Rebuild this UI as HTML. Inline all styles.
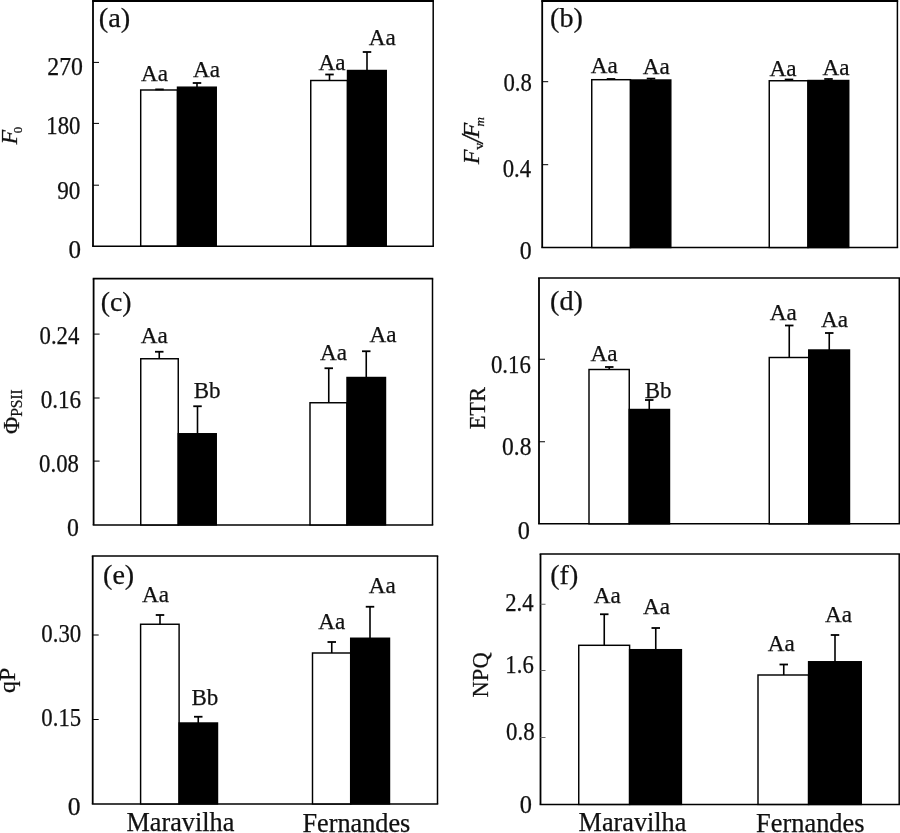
<!DOCTYPE html>
<html><head><meta charset="utf-8"><title>Figure</title>
<style>
html,body{margin:0;padding:0;background:#fff;}
svg{display:block;filter:blur(0.35px);}
svg text{font-family:"Liberation Serif",serif;fill:#111;stroke:#111;stroke-width:0.25px;}
</style></head><body>
<svg width="900" height="833" viewBox="0 0 900 833">
<rect width="900" height="833" fill="#fff"/>
<line x1="92.1" y1="0.4" x2="433.95" y2="0.4" stroke="#000" stroke-width="3.2"/>
<line x1="92.1" y1="246.2" x2="433.95" y2="246.2" stroke="#000" stroke-width="1.5"/>
<line x1="93" y1="0.4" x2="93" y2="246.2" stroke="#000" stroke-width="1.8"/>
<line x1="433.2" y1="0.4" x2="433.2" y2="246.2" stroke="#000" stroke-width="1.5"/>
<line x1="93" y1="62.4" x2="99" y2="62.4" stroke="#000" stroke-width="1.0"/>
<line x1="93" y1="123.4" x2="99" y2="123.4" stroke="#000" stroke-width="1.0"/>
<line x1="93" y1="185.2" x2="99" y2="185.2" stroke="#000" stroke-width="1.0"/>
<rect x="140.70" y="90.00" width="36.80" height="156.00" fill="#fff" stroke="#000" stroke-width="1.45"/>
<line x1="159.5" y1="90" x2="159.5" y2="89.4" stroke="#000" stroke-width="1.6"/>
<line x1="155.25" y1="89.4" x2="163.75" y2="89.4" stroke="#000" stroke-width="1.8"/>
<rect x="177.50" y="87.20" width="38.75" height="158.80" fill="#000" stroke="#000" stroke-width="1.45"/>
<line x1="197" y1="87.2" x2="197" y2="83" stroke="#000" stroke-width="1.6"/>
<line x1="192.75" y1="83" x2="201.25" y2="83" stroke="#000" stroke-width="1.8"/>
<rect x="310.75" y="80.50" width="36.75" height="165.50" fill="#fff" stroke="#000" stroke-width="1.45"/>
<line x1="329.5" y1="80.5" x2="329.5" y2="74.5" stroke="#000" stroke-width="1.6"/>
<line x1="325.25" y1="74.5" x2="333.75" y2="74.5" stroke="#000" stroke-width="1.8"/>
<rect x="347.50" y="70.50" width="38.75" height="175.50" fill="#000" stroke="#000" stroke-width="1.45"/>
<line x1="367" y1="70.5" x2="367" y2="52" stroke="#000" stroke-width="1.6"/>
<line x1="362.75" y1="52" x2="371.25" y2="52" stroke="#000" stroke-width="1.8"/>
<line x1="541.3000000000001" y1="0.4" x2="898.15" y2="0.4" stroke="#000" stroke-width="3.2"/>
<line x1="541.3000000000001" y1="247.5" x2="898.15" y2="247.5" stroke="#000" stroke-width="1.5"/>
<line x1="542.2" y1="0.4" x2="542.2" y2="247.5" stroke="#000" stroke-width="1.8"/>
<line x1="897.4" y1="0.4" x2="897.4" y2="247.5" stroke="#000" stroke-width="1.5"/>
<line x1="542.2" y1="81.7" x2="548.2" y2="81.7" stroke="#000" stroke-width="1.0"/>
<line x1="542.2" y1="164.7" x2="548.2" y2="164.7" stroke="#000" stroke-width="1.0"/>
<rect x="591.75" y="79.70" width="38.75" height="167.80" fill="#fff" stroke="#000" stroke-width="1.45"/>
<line x1="611" y1="79.7" x2="611" y2="79.0" stroke="#000" stroke-width="1.6"/>
<line x1="606.75" y1="79.0" x2="615.25" y2="79.0" stroke="#000" stroke-width="1.8"/>
<rect x="630.50" y="80.00" width="40.30" height="167.50" fill="#000" stroke="#000" stroke-width="1.45"/>
<line x1="651" y1="80" x2="651" y2="78.6" stroke="#000" stroke-width="1.6"/>
<line x1="646.75" y1="78.6" x2="655.25" y2="78.6" stroke="#000" stroke-width="1.8"/>
<rect x="769.25" y="80.75" width="38.75" height="166.75" fill="#fff" stroke="#000" stroke-width="1.45"/>
<line x1="789" y1="80.75" x2="789" y2="79.5" stroke="#000" stroke-width="1.6"/>
<line x1="784.75" y1="79.5" x2="793.25" y2="79.5" stroke="#000" stroke-width="1.8"/>
<rect x="808.00" y="80.50" width="40.75" height="167.00" fill="#000" stroke="#000" stroke-width="1.45"/>
<line x1="828.5" y1="80.5" x2="828.5" y2="79" stroke="#000" stroke-width="1.6"/>
<line x1="824.25" y1="79" x2="832.75" y2="79" stroke="#000" stroke-width="1.8"/>
<line x1="92.69999999999999" y1="278.7" x2="433.25" y2="278.7" stroke="#000" stroke-width="1.7"/>
<line x1="92.69999999999999" y1="524.9" x2="433.25" y2="524.9" stroke="#000" stroke-width="1.5"/>
<line x1="93.6" y1="278.7" x2="93.6" y2="524.9" stroke="#000" stroke-width="1.8"/>
<line x1="432.5" y1="278.7" x2="432.5" y2="524.9" stroke="#000" stroke-width="1.5"/>
<line x1="93.6" y1="334.1" x2="99.6" y2="334.1" stroke="#000" stroke-width="1.0"/>
<line x1="93.6" y1="398" x2="99.6" y2="398" stroke="#000" stroke-width="1.0"/>
<line x1="93.6" y1="461.1" x2="99.6" y2="461.1" stroke="#000" stroke-width="1.0"/>
<rect x="140.75" y="358.75" width="37.50" height="166.15" fill="#fff" stroke="#000" stroke-width="1.45"/>
<line x1="159.25" y1="358.75" x2="159.25" y2="351.75" stroke="#000" stroke-width="1.6"/>
<line x1="155.0" y1="351.75" x2="163.5" y2="351.75" stroke="#000" stroke-width="1.8"/>
<rect x="178.25" y="433.75" width="38.00" height="91.15" fill="#000" stroke="#000" stroke-width="1.45"/>
<line x1="197.5" y1="433.75" x2="197.5" y2="406.25" stroke="#000" stroke-width="1.6"/>
<line x1="193.25" y1="406.25" x2="201.75" y2="406.25" stroke="#000" stroke-width="1.8"/>
<rect x="310.00" y="402.75" width="37.00" height="122.15" fill="#fff" stroke="#000" stroke-width="1.45"/>
<line x1="328.75" y1="402.75" x2="328.75" y2="368.25" stroke="#000" stroke-width="1.6"/>
<line x1="324.5" y1="368.25" x2="333.0" y2="368.25" stroke="#000" stroke-width="1.8"/>
<rect x="347.00" y="377.50" width="38.50" height="147.40" fill="#000" stroke="#000" stroke-width="1.45"/>
<line x1="366.25" y1="377.5" x2="366.25" y2="351.25" stroke="#000" stroke-width="1.6"/>
<line x1="362.0" y1="351.25" x2="370.5" y2="351.25" stroke="#000" stroke-width="1.8"/>
<line x1="538.1" y1="278" x2="900.05" y2="278" stroke="#000" stroke-width="1.7"/>
<line x1="538.1" y1="523.8" x2="900.05" y2="523.8" stroke="#000" stroke-width="1.5"/>
<line x1="539" y1="278" x2="539" y2="523.8" stroke="#000" stroke-width="1.8"/>
<line x1="899.3" y1="278" x2="899.3" y2="523.8" stroke="#000" stroke-width="1.5"/>
<line x1="539" y1="359.25" x2="545" y2="359.25" stroke="#000" stroke-width="1.0"/>
<line x1="539" y1="441.75" x2="545" y2="441.75" stroke="#000" stroke-width="1.0"/>
<rect x="589.00" y="369.50" width="40.25" height="154.30" fill="#fff" stroke="#000" stroke-width="1.45"/>
<line x1="609.25" y1="369.5" x2="609.25" y2="367" stroke="#000" stroke-width="1.6"/>
<line x1="605.0" y1="367" x2="613.5" y2="367" stroke="#000" stroke-width="1.8"/>
<rect x="629.25" y="409.50" width="40.25" height="114.30" fill="#000" stroke="#000" stroke-width="1.45"/>
<line x1="649.25" y1="409.5" x2="649.25" y2="400" stroke="#000" stroke-width="1.6"/>
<line x1="645.0" y1="400" x2="653.5" y2="400" stroke="#000" stroke-width="1.8"/>
<rect x="769.25" y="357.50" width="39.50" height="166.30" fill="#fff" stroke="#000" stroke-width="1.45"/>
<line x1="789.25" y1="357.5" x2="789.25" y2="325.5" stroke="#000" stroke-width="1.6"/>
<line x1="785.0" y1="325.5" x2="793.5" y2="325.5" stroke="#000" stroke-width="1.8"/>
<rect x="808.75" y="350.00" width="40.75" height="173.80" fill="#000" stroke="#000" stroke-width="1.45"/>
<line x1="829.25" y1="350" x2="829.25" y2="333" stroke="#000" stroke-width="1.6"/>
<line x1="825.0" y1="333" x2="833.5" y2="333" stroke="#000" stroke-width="1.8"/>
<line x1="91.8" y1="556" x2="438.25" y2="556" stroke="#000" stroke-width="1.7"/>
<line x1="91.8" y1="803.9" x2="438.25" y2="803.9" stroke="#000" stroke-width="1.5"/>
<line x1="92.7" y1="556" x2="92.7" y2="803.9" stroke="#000" stroke-width="1.8"/>
<line x1="437.5" y1="556" x2="437.5" y2="803.9" stroke="#000" stroke-width="1.5"/>
<line x1="92.7" y1="635" x2="98.7" y2="635" stroke="#000" stroke-width="1.0"/>
<line x1="92.7" y1="719.5" x2="98.7" y2="719.5" stroke="#000" stroke-width="1.0"/>
<rect x="140.60" y="624.25" width="38.50" height="179.65" fill="#fff" stroke="#000" stroke-width="1.45"/>
<line x1="160" y1="624.25" x2="160" y2="615" stroke="#000" stroke-width="1.6"/>
<line x1="155.75" y1="615" x2="164.25" y2="615" stroke="#000" stroke-width="1.8"/>
<rect x="179.10" y="723.00" width="38.40" height="80.90" fill="#000" stroke="#000" stroke-width="1.45"/>
<line x1="198.25" y1="723" x2="198.25" y2="716.75" stroke="#000" stroke-width="1.6"/>
<line x1="194.0" y1="716.75" x2="202.5" y2="716.75" stroke="#000" stroke-width="1.8"/>
<rect x="312.50" y="653.00" width="38.20" height="150.90" fill="#fff" stroke="#000" stroke-width="1.45"/>
<line x1="331.75" y1="653" x2="331.75" y2="642" stroke="#000" stroke-width="1.6"/>
<line x1="327.5" y1="642" x2="336.0" y2="642" stroke="#000" stroke-width="1.8"/>
<rect x="350.70" y="638.25" width="38.80" height="165.65" fill="#000" stroke="#000" stroke-width="1.45"/>
<line x1="370" y1="638.25" x2="370" y2="606.75" stroke="#000" stroke-width="1.6"/>
<line x1="365.75" y1="606.75" x2="374.25" y2="606.75" stroke="#000" stroke-width="1.8"/>
<line x1="539.6" y1="554" x2="899.95" y2="554" stroke="#000" stroke-width="1.7"/>
<line x1="539.6" y1="804.4" x2="899.95" y2="804.4" stroke="#000" stroke-width="1.5"/>
<line x1="540.5" y1="554" x2="540.5" y2="804.4" stroke="#000" stroke-width="1.8"/>
<line x1="899.2" y1="554" x2="899.2" y2="804.4" stroke="#000" stroke-width="1.5"/>
<line x1="540.5" y1="604.25" x2="545.5" y2="604.25" stroke="#666" stroke-width="1"/>
<line x1="540.5" y1="670.5" x2="545.5" y2="670.5" stroke="#666" stroke-width="1"/>
<line x1="540.5" y1="737.5" x2="545.5" y2="737.5" stroke="#666" stroke-width="1"/>
<rect x="578.75" y="645.30" width="50.85" height="159.10" fill="#fff" stroke="#000" stroke-width="1.45"/>
<line x1="604.25" y1="645.3" x2="604.25" y2="614.25" stroke="#000" stroke-width="1.6"/>
<line x1="600.0" y1="614.25" x2="608.5" y2="614.25" stroke="#000" stroke-width="1.8"/>
<rect x="629.60" y="649.70" width="51.80" height="154.70" fill="#000" stroke="#000" stroke-width="1.45"/>
<line x1="655.75" y1="649.7" x2="655.75" y2="628" stroke="#000" stroke-width="1.6"/>
<line x1="651.5" y1="628" x2="660.0" y2="628" stroke="#000" stroke-width="1.8"/>
<rect x="758.00" y="675.00" width="50.60" height="129.40" fill="#fff" stroke="#000" stroke-width="1.45"/>
<line x1="783.75" y1="675" x2="783.75" y2="664.5" stroke="#000" stroke-width="1.6"/>
<line x1="779.5" y1="664.5" x2="788.0" y2="664.5" stroke="#000" stroke-width="1.8"/>
<rect x="808.60" y="661.75" width="52.65" height="142.65" fill="#000" stroke="#000" stroke-width="1.45"/>
<line x1="835" y1="661.75" x2="835" y2="635" stroke="#000" stroke-width="1.6"/>
<line x1="830.75" y1="635" x2="839.25" y2="635" stroke="#000" stroke-width="1.8"/>
<text x="98.72" y="27" font-size="28" textLength="31.56" lengthAdjust="spacingAndGlyphs">(a)</text>
<text x="550.03" y="27.3" font-size="28" textLength="32.82" lengthAdjust="spacingAndGlyphs">(b)</text>
<text x="100.75" y="310.5" font-size="28" textLength="30.79" lengthAdjust="spacingAndGlyphs">(c)</text>
<text x="550.03" y="309.5" font-size="28" textLength="32.82" lengthAdjust="spacingAndGlyphs">(d)</text>
<text x="103.03" y="584" font-size="28" textLength="31.23" lengthAdjust="spacingAndGlyphs">(e)</text>
<text x="550.34" y="584" font-size="28" textLength="27.89" lengthAdjust="spacingAndGlyphs">(f)</text>
<text x="47.23" y="74.7" font-size="24.7" textLength="35.72" lengthAdjust="spacingAndGlyphs">270</text>
<text x="46.34" y="134.4" font-size="24.7" textLength="34.09" lengthAdjust="spacingAndGlyphs">180</text>
<text x="57.31" y="199.3" font-size="24.7" textLength="23.12" lengthAdjust="spacingAndGlyphs">90</text>
<text x="68.5" y="258" font-size="24.7" textLength="12.5" lengthAdjust="spacingAndGlyphs">0</text>
<text x="503.45" y="91.4" font-size="24.7" textLength="28.41" lengthAdjust="spacingAndGlyphs">0.8</text>
<text x="502.64" y="177" font-size="24.7" textLength="28.41" lengthAdjust="spacingAndGlyphs">0.4</text>
<text x="519.8" y="258.75" font-size="24.7" textLength="11.9" lengthAdjust="spacingAndGlyphs">0</text>
<text x="39.53" y="343.5" font-size="24.7" textLength="39.77" lengthAdjust="spacingAndGlyphs">0.24</text>
<text x="40.68" y="407.7" font-size="24.7" textLength="40.42" lengthAdjust="spacingAndGlyphs">0.16</text>
<text x="39.09" y="471.7" font-size="24.7" textLength="39.82" lengthAdjust="spacingAndGlyphs">0.08</text>
<text x="67.05" y="535.5" font-size="24.7" textLength="11.9" lengthAdjust="spacingAndGlyphs">0</text>
<text x="491.0" y="372.5" font-size="24.7" textLength="39.77" lengthAdjust="spacingAndGlyphs">0.16</text>
<text x="502.06" y="454.5" font-size="24.7" textLength="29.38" lengthAdjust="spacingAndGlyphs">0.8</text>
<text x="517.83" y="538.5" font-size="24.7" textLength="12.14" lengthAdjust="spacingAndGlyphs">0</text>
<text x="41.29" y="641.75" font-size="24.7" textLength="39.93" lengthAdjust="spacingAndGlyphs">0.30</text>
<text x="41.37" y="725.5" font-size="24.7" textLength="39.77" lengthAdjust="spacingAndGlyphs">0.15</text>
<text x="67.73" y="815" font-size="24.7" textLength="12.8" lengthAdjust="spacingAndGlyphs">0</text>
<text x="505.21" y="611.25" font-size="24.7" textLength="28.41" lengthAdjust="spacingAndGlyphs">2.4</text>
<text x="505.37" y="673" font-size="24.7" textLength="28.41" lengthAdjust="spacingAndGlyphs">1.6</text>
<text x="506.09" y="740" font-size="24.7" textLength="28.58" lengthAdjust="spacingAndGlyphs">0.8</text>
<text x="519.77" y="813.2" font-size="24.7" textLength="12.2" lengthAdjust="spacingAndGlyphs">0</text>
<text x="141.02" y="81.3" font-size="23.5" textLength="27.0" lengthAdjust="spacingAndGlyphs">Aa</text>
<text x="192.92" y="77.2" font-size="23.5" textLength="27.0" lengthAdjust="spacingAndGlyphs">Aa</text>
<text x="318.57" y="69.5" font-size="23.5" textLength="27.0" lengthAdjust="spacingAndGlyphs">Aa</text>
<text x="368.82" y="45.4" font-size="23.5" textLength="27.0" lengthAdjust="spacingAndGlyphs">Aa</text>
<text x="590.82" y="73.25" font-size="23.5" textLength="27.0" lengthAdjust="spacingAndGlyphs">Aa</text>
<text x="642.82" y="73.75" font-size="23.5" textLength="27.0" lengthAdjust="spacingAndGlyphs">Aa</text>
<text x="769.44" y="75.5" font-size="23.5" textLength="27.0" lengthAdjust="spacingAndGlyphs">Aa</text>
<text x="822.57" y="74.5" font-size="23.5" textLength="27.0" lengthAdjust="spacingAndGlyphs">Aa</text>
<text x="140.82" y="343.25" font-size="23.5" textLength="27.0" lengthAdjust="spacingAndGlyphs">Aa</text>
<text x="193.71" y="398" font-size="23.5" textLength="26.86" lengthAdjust="spacingAndGlyphs">Bb</text>
<text x="320.07" y="360" font-size="23.5" textLength="27.0" lengthAdjust="spacingAndGlyphs">Aa</text>
<text x="369.44" y="342.1" font-size="23.5" textLength="27.0" lengthAdjust="spacingAndGlyphs">Aa</text>
<text x="590.57" y="361.25" font-size="23.5" textLength="27.0" lengthAdjust="spacingAndGlyphs">Aa</text>
<text x="644.76" y="397.6" font-size="23.5" textLength="26.86" lengthAdjust="spacingAndGlyphs">Bb</text>
<text x="769.69" y="320" font-size="23.5" textLength="27.0" lengthAdjust="spacingAndGlyphs">Aa</text>
<text x="820.94" y="327" font-size="23.5" textLength="27.0" lengthAdjust="spacingAndGlyphs">Aa</text>
<text x="142.07" y="601.75" font-size="23.5" textLength="27.0" lengthAdjust="spacingAndGlyphs">Aa</text>
<text x="191.46" y="705" font-size="23.5" textLength="26.86" lengthAdjust="spacingAndGlyphs">Bb</text>
<text x="318.32" y="628.75" font-size="23.5" textLength="27.0" lengthAdjust="spacingAndGlyphs">Aa</text>
<text x="368.82" y="593" font-size="23.5" textLength="27.0" lengthAdjust="spacingAndGlyphs">Aa</text>
<text x="593.82" y="602.5" font-size="23.5" textLength="27.0" lengthAdjust="spacingAndGlyphs">Aa</text>
<text x="643.07" y="614.25" font-size="23.5" textLength="27.0" lengthAdjust="spacingAndGlyphs">Aa</text>
<text x="767.82" y="650.75" font-size="23.5" textLength="27.0" lengthAdjust="spacingAndGlyphs">Aa</text>
<text x="825.07" y="621.7" font-size="23.5" textLength="27.0" lengthAdjust="spacingAndGlyphs">Aa</text>
<text x="126.51" y="831" font-size="26.5" textLength="107.86" lengthAdjust="spacingAndGlyphs">Maravilha</text>
<text x="302.41" y="831.9" font-size="26.5" textLength="107.9" lengthAdjust="spacingAndGlyphs">Fernandes</text>
<text x="578.61" y="831" font-size="26.5" textLength="107.76" lengthAdjust="spacingAndGlyphs">Maravilha</text>
<text x="756.11" y="832" font-size="26.5" textLength="108.41" lengthAdjust="spacingAndGlyphs">Fernandes</text>
<text transform="translate(17.2 144.38) rotate(-90)" font-size="24" textLength="14.56" lengthAdjust="spacingAndGlyphs" font-style="italic">F</text>
<text transform="translate(21.9 133.31) rotate(-90)" font-size="12.5" textLength="6.43" lengthAdjust="spacingAndGlyphs">0</text>
<text transform="translate(478.8 164.28) rotate(-90)" font-size="24" textLength="14.76" lengthAdjust="spacingAndGlyphs" font-style="italic">F</text>
<text transform="translate(483 149.77) rotate(-90)" font-size="13" textLength="7.15" lengthAdjust="spacingAndGlyphs">v</text>
<text transform="translate(482.8 143.22) rotate(-90)" font-size="31" textLength="7.92" lengthAdjust="spacingAndGlyphs" font-style="italic">/</text>
<text transform="translate(478.8 137.88) rotate(-90)" font-size="24" textLength="15.25" lengthAdjust="spacingAndGlyphs" font-style="italic">F</text>
<text transform="translate(483.6 126.46) rotate(-90)" font-size="12" textLength="9.41" lengthAdjust="spacingAndGlyphs" font-style="italic">m</text>
<text transform="translate(19.2 433.91) rotate(-90)" font-size="24" textLength="17.24" lengthAdjust="spacingAndGlyphs">Φ</text>
<text transform="translate(22.1 416.87) rotate(-90)" font-size="16" textLength="27.58" lengthAdjust="spacingAndGlyphs">PSII</text>
<text transform="translate(485.2 429.37) rotate(-90)" font-size="24" textLength="42.46" lengthAdjust="spacingAndGlyphs">ETR</text>
<text transform="translate(15.1 693.04) rotate(-90)" font-size="24" textLength="25.22" lengthAdjust="spacingAndGlyphs">qP</text>
<text transform="translate(487.6 697.38) rotate(-90)" font-size="24" textLength="45.03" lengthAdjust="spacingAndGlyphs">NPQ</text>
</svg>
</body></html>
